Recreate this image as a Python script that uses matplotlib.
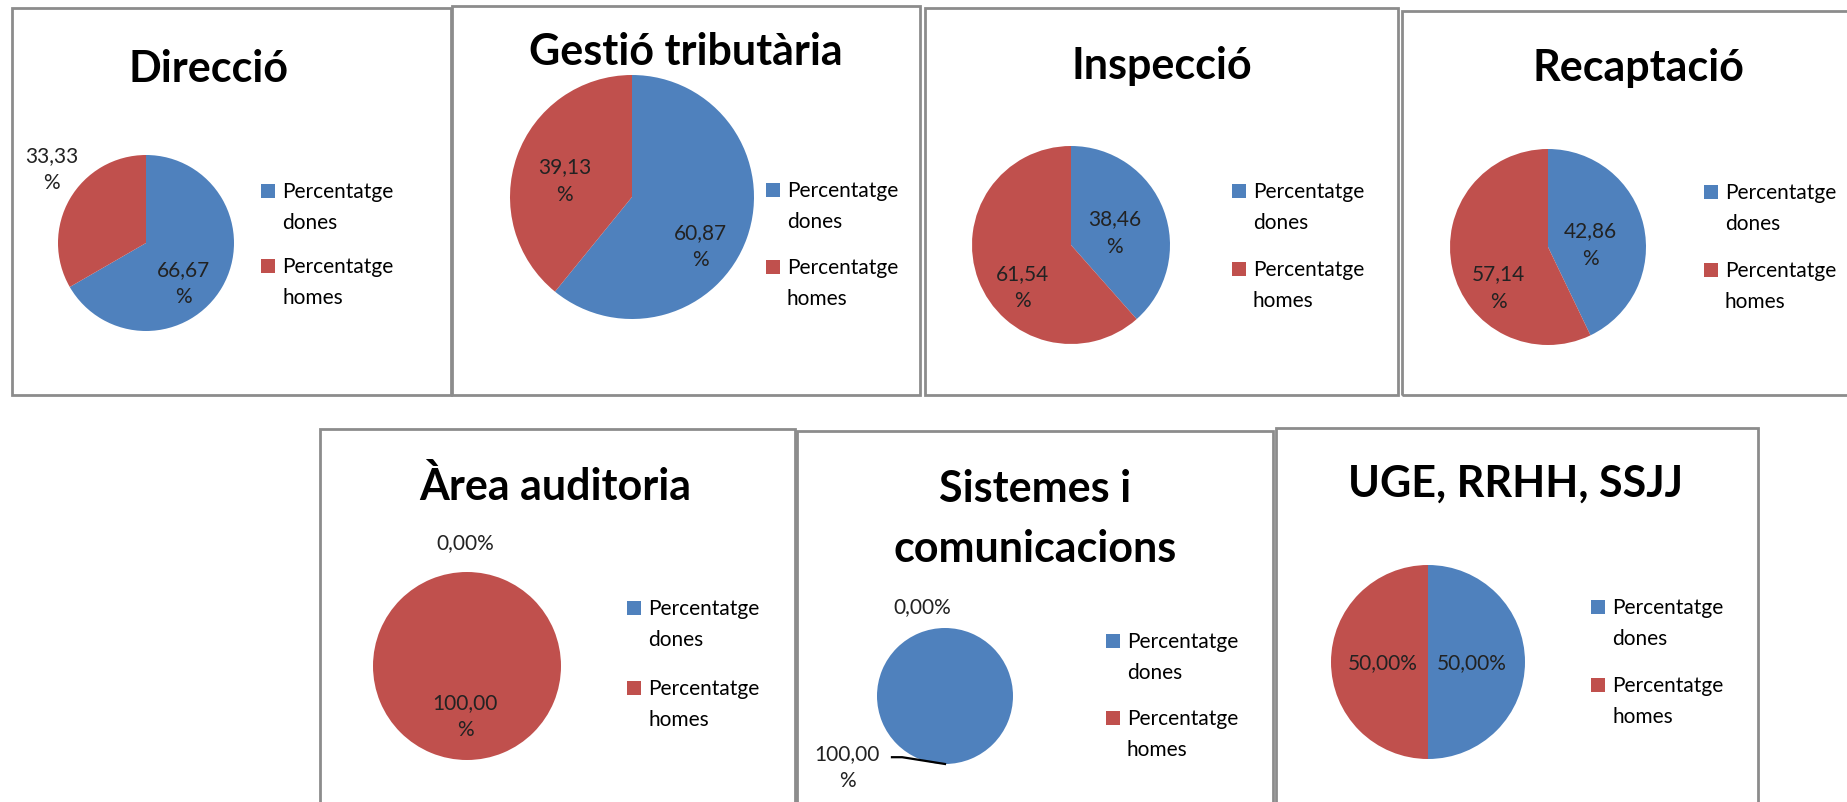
import matplotlib
matplotlib.use("Agg")
import matplotlib.pyplot as plt
from matplotlib.patches import Rectangle
from matplotlib.lines import Line2D

plt.rcParams['font.family'] = ['Lato', 'DejaVu Sans']

# ---------------- data ----------------
categories = ["Direcció", "Gestió tributària", "Inspecció", "Recaptació",
              "Àrea auditoria", "Sistemes i comunicacions", "UGE, RRHH, SSJJ"]
title_lines = [["Direcció"], ["Gestió tributària"], ["Inspecció"], ["Recaptació"],
               ["Àrea auditoria"], ["Sistemes i", "comunicacions"], ["UGE, RRHH, SSJJ"]]
dones = [66.67, 60.87, 38.46, 42.86, 0.00, 100.00, 50.00]
homes = [33.33, 39.13, 61.54, 57.14, 100.00, 0.00, 50.00]
series_names = [["Percentatge", "dones"], ["Percentatge", "homes"]]
colors = ["#4F81BD", "#C0504D"]

# ---------------- layout (pixels) ----------------
W, H = 1847, 803
boxes = [(12, 9, 451, 396), (452, 7, 920, 396), (925, 9, 1398, 396), (1402, 12, 1852, 396),
         (320, 430, 795, 810), (797, 432, 1273, 810), (1276, 429, 1758, 810)]
title_pos = [(208, 82), (686, 65), (1162, 79), (1638, 81), (555, 500), (1035, 502), (1516, 497)]
pie_geom = [(146, 244, 88), (632, 198, 122), (1071, 246, 99), (1548, 248, 98),
            (467, 667, 94), (945, 697, 68), (1428, 663, 97)]
legend_pos = [(261, 192), (766, 191), (1232, 192), (1704, 193),
              (627, 609), (1106, 642), (1591, 608)]
legend_gap = [75, 77, 78, 78, 80, 77, 78]
# label positions in pie-radius units: (dones, homes)
label_pos = [((0.43, -0.45), (-1.07, 0.85)),
             ((0.56, -0.40), (-0.55, 0.14)),
             ((0.44, 0.13), (-0.49, -0.42)),
             ((0.43, 0.03), (-0.51, -0.41)),
             ((-0.02, 1.32), (-0.02, -0.53)),
             ((-1.44, -1.04), (-0.34, 1.32)),
             ((0.45, 0.0), (-0.47, 0.0))]
label_wrap = [(True, True), (True, True), (True, True), (True, True),
              (False, True), (True, False), (False, False)]

TITLE_FS = 31
TEXT_FS = 15

fig = plt.figure(figsize=(W / 100, H / 100), dpi=100)


def fx(x):
    return x / W


def fy(y):
    return 1 - y / H


def fmt(v, wrap):
    s = f"{v:.2f}".replace(".", ",")
    return s + ("\n%" if wrap else "%")


for i in range(len(categories)):
    x0, y0, x1, y1 = boxes[i]
    fig.add_artist(Rectangle((fx(x0), fy(y1)), (x1 - x0) / W, (y1 - y0) / H,
                             transform=fig.transFigure, fill=False,
                             edgecolor="#8c8c8c", linewidth=2.0))
    # title
    tx, ty = title_pos[i]
    for k, line in enumerate(title_lines[i]):
        fig.text(fx(tx), fy(ty + k * 60), line, ha="center", va="baseline",
                 fontsize=TITLE_FS, fontweight="bold", color="black")
    # pie
    cx, cy, r = pie_geom[i]
    ax = fig.add_axes([fx(cx - r), fy(cy + r), 2 * r / W, 2 * r / H])
    vals = [dones[i], homes[i]]
    ax.pie(vals, colors=colors, startangle=90, counterclock=False,
           radius=1, wedgeprops=dict(linewidth=0))
    ax.set_xlim(-1, 1)
    ax.set_ylim(-1, 1)
    ax.set_aspect("equal")
    ax.axis("off")
    for j in range(2):
        px, py = label_pos[i][j]
        ax.text(px, py, fmt(vals[j], label_wrap[i][j]), ha="center", va="center",
                fontsize=TEXT_FS, color="#222222", linespacing=1.45,
                multialignment="center")
    if i == 5:
        ax.add_line(Line2D([-0.78, -0.63, 0.0], [-0.90, -0.90, -1.0],
                           color="black", linewidth=1.6, clip_on=False))
    # legend
    mx, my = legend_pos[i]
    for j in range(2):
        yy = my + j * legend_gap[i]
        fig.add_artist(Rectangle((fx(mx), fy(yy + 7)), 14 / W, 14 / H,
                                 transform=fig.transFigure, facecolor=colors[j],
                                 edgecolor="none"))
        for k, line in enumerate(series_names[j]):
            fig.text(fx(mx + 21), fy(yy + k * 31), line, ha="left", va="center",
                     fontsize=TEXT_FS, color="black")

fig.savefig("out.png", dpi=100, facecolor="white")
